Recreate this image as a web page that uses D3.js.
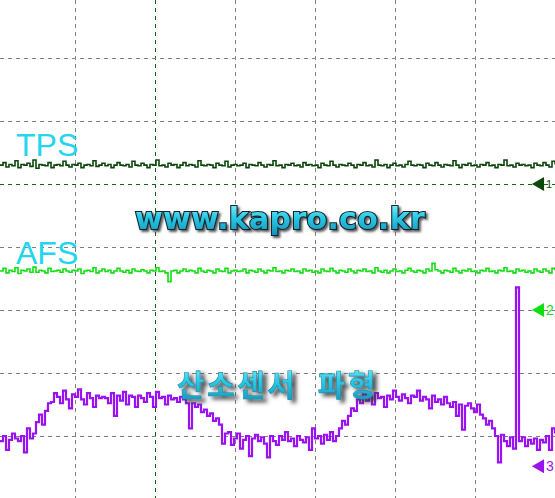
<!DOCTYPE html>
<html>
<head>
<meta charset="utf-8">
<script src="https://cdn.jsdelivr.net/npm/d3@7"></script>
<style>
  body { margin: 0; background: #fff; }
  svg { display: block; }
</style>
</head>
<body>
<div id="scope"></div>
<script>
var W = 555, H = 498;

// screen grid in divisions (visible part of the scope screen)
var xDivs = [0, 1, 2, 3, 4, 5, 6, 7];
var yDivs = [0, 1, 2, 3, 4, 5, 6, 7, 8];
var triggerDiv = 2;

// channels : label, ground level (div), volts per div
var chNames = ['TPS', 'AFS', '산소센서 파형'];
var chGround = [3, 5, 7.48];
var chVoltsDiv = [1, 1, 0.5];
var chColors = ['#0b470b', '#10e010', '#9a12f0'];

// sampled values (V), one every 3 px of screen
var tps = [0.30,0.34,0.27,0.31,0.29,0.37,0.26,0.31,0.30,0.33,0.28,0.38,0.25,0.31,0.30,0.29,0.34,0.26,0.30,0.31,
0.29,0.36,0.30,0.27,0.31,0.30,0.33,0.26,0.30,0.31,0.29,0.37,0.28,0.30,0.33,0.29,0.31,0.26,0.30,0.34,
0.30,0.29,0.31,0.27,0.36,0.30,0.29,0.33,0.30,0.26,0.31,0.30,0.38,0.29,0.30,0.27,0.33,0.30,0.31,0.26,
0.30,0.34,0.29,0.31,0.30,0.27,0.37,0.30,0.29,0.31,0.30,0.26,0.33,0.30,0.29,0.36,0.27,0.30,0.31,0.29,
0.30,0.33,0.26,0.31,0.30,0.29,0.34,0.30,0.27,0.31,0.30,0.37,0.29,0.30,0.26,0.31,0.30,0.33,0.29,0.30,
0.27,0.34,0.30,0.31,0.29,0.30,0.26,0.33,0.30,0.29,0.36,0.30,0.27,0.31,0.30,0.29,0.33,0.30,0.26,0.31,
0.30,0.34,0.29,0.30,0.27,0.38,0.30,0.29,0.31,0.26,0.30,0.33,0.29,0.30,0.27,0.31,0.36,0.30,0.29,0.31,
0.30,0.26,0.33,0.30,0.29,0.34,0.30,0.27,0.31,0.30,0.29,0.37,0.30,0.26,0.31,0.30,0.33,0.29,0.30,0.27,
0.31,0.30,0.34,0.29,0.30,0.26,0.31,0.30,0.38,0.29,0.30,0.27,0.33,0.30,0.31,0.29,0.30,0.26,0.33,0.30,
0.29,0.34,0.30,0.27,0.36,0.31];

var afs = [0.62,0.66,0.59,0.63,0.61,0.67,0.58,0.63,0.62,0.65,0.60,0.68,0.60,0.63,0.62,0.59,0.66,0.61,0.62,0.63,
0.60,0.65,0.62,0.60,0.63,0.62,0.65,0.58,0.62,0.63,0.61,0.67,0.59,0.62,0.65,0.61,0.63,0.59,0.62,0.66,
0.62,0.60,0.63,0.59,0.65,0.62,0.61,0.64,0.62,0.59,0.63,0.62,0.67,0.61,0.62,0.59,0.45,0.62,0.63,0.59,
0.62,0.65,0.61,0.63,0.62,0.59,0.66,0.62,0.60,0.63,0.62,0.59,0.65,0.62,0.61,0.66,0.59,0.62,0.63,0.61,
0.62,0.65,0.59,0.63,0.62,0.60,0.65,0.62,0.59,0.63,0.62,0.67,0.61,0.62,0.59,0.63,0.62,0.65,0.61,0.62,
0.59,0.65,0.62,0.63,0.60,0.62,0.59,0.65,0.62,0.61,0.66,0.62,0.59,0.63,0.62,0.60,0.65,0.62,0.59,0.63,
0.62,0.65,0.61,0.62,0.59,0.67,0.62,0.60,0.63,0.59,0.62,0.65,0.61,0.62,0.59,0.63,0.66,0.62,0.60,0.63,
0.62,0.59,0.65,0.62,0.74,0.64,0.62,0.59,0.63,0.62,0.60,0.66,0.62,0.59,0.63,0.62,0.65,0.61,0.62,0.59,
0.63,0.62,0.66,0.61,0.62,0.59,0.63,0.62,0.67,0.61,0.62,0.59,0.65,0.62,0.63,0.60,0.62,0.59,0.65,0.62,
0.60,0.65,0.62,0.59,0.66,0.63];

var o2 = [0.20,0.24,0.13,0.21,0.26,0.22,0.20,0.24,0.11,0.30,0.22,0.26,0.35,0.41,0.33,0.44,0.50,0.51,0.58,0.55,
0.50,0.60,0.53,0.46,0.57,0.55,0.61,0.53,0.49,0.58,0.54,0.47,0.56,0.54,0.55,0.54,0.50,0.58,0.40,0.56,
0.52,0.59,0.49,0.56,0.55,0.47,0.56,0.54,0.51,0.58,0.55,0.47,0.59,0.54,0.55,0.49,0.56,0.53,0.54,0.51,
0.55,0.53,0.50,0.30,0.50,0.47,0.49,0.43,0.45,0.40,0.42,0.36,0.38,0.33,0.18,0.26,0.27,0.17,0.22,0.26,
0.14,0.21,0.24,0.08,0.22,0.25,0.20,0.23,0.18,0.07,0.24,0.20,0.17,0.24,0.21,0.27,0.20,0.22,0.16,0.24,
0.21,0.19,0.23,0.13,0.30,0.22,0.24,0.18,0.25,0.21,0.27,0.20,0.24,0.30,0.36,0.33,0.40,0.46,0.44,0.53,
0.50,0.57,0.52,0.55,0.49,0.58,0.54,0.55,0.47,0.56,0.53,0.60,0.55,0.52,0.57,0.54,0.50,0.56,0.55,0.60,
0.52,0.55,0.53,0.46,0.56,0.51,0.53,0.49,0.55,0.50,0.47,0.51,0.40,0.49,0.29,0.48,0.50,0.46,0.43,0.49,
0.41,0.38,0.33,0.36,0.30,0.24,0.03,0.25,0.20,0.16,0.23,0.14,1.42,0.20,0.23,0.16,0.21,0.18,0.22,0.13,
0.21,0.19,0.24,0.13,0.30,0.26];

var series = [tps, afs, o2];

var xDiv = d3.scaleLinear().domain([0, 7]).range([-5, 555]);
var yDiv = d3.scaleLinear().domain([0, 8]).range([-5, 499]);
var xs = d3.scaleLinear().domain([0, o2.length - 1]).range([0, 555]);

var svg = d3.select('#scope').append('svg')
  .attr('width', W).attr('height', H);

var defs = svg.append('defs');
var grad = defs.append('linearGradient').attr('id', 'cyanGrad')
  .attr('x1', 0).attr('y1', 0).attr('x2', 0).attr('y2', 1);
grad.append('stop').attr('offset', '0%').attr('stop-color', '#9ef4ff');
grad.append('stop').attr('offset', '45%').attr('stop-color', '#2ccbe6');
grad.append('stop').attr('offset', '100%').attr('stop-color', '#1590b8');

var shadow = defs.append('filter').attr('id', 'shadow')
  .attr('x', '-10%').attr('y', '-30%').attr('width', '130%').attr('height', '180%');
shadow.append('feDropShadow').attr('dx', 4).attr('dy', 3)
  .attr('stdDeviation', 2).attr('flood-color', '#3a3a3a').attr('flood-opacity', 0.95);

var shadow2 = defs.append('filter').attr('id', 'shadow2')
  .attr('x', '-10%').attr('y', '-30%').attr('width', '130%').attr('height', '180%');
shadow2.append('feDropShadow').attr('dx', 2).attr('dy', 2)
  .attr('stdDeviation', 1.2).attr('flood-color', '#333').attr('flood-opacity', 0.8);

// grid
svg.selectAll('.vgrid').data(xDivs).enter().append('line')
  .attr('class', 'vgrid')
  .attr('x1', d => xDiv(d) + 0.5).attr('x2', d => xDiv(d) + 0.5)
  .attr('y1', 0).attr('y2', H)
  .attr('stroke', d => d === triggerDiv ? '#146414' : '#808080')
  .attr('stroke-dasharray', '4,4');

svg.selectAll('.hgrid').data(yDivs).enter().append('line')
  .attr('class', 'hgrid')
  .attr('y1', d => yDiv(d) + 0.5).attr('y2', d => yDiv(d) + 0.5)
  .attr('x1', 0).attr('x2', W)
  .attr('stroke', d => d === chGround[0] ? '#146414' : '#808080')
  .attr('stroke-dasharray', '4,4');

// traces
series.forEach(function (vals, c) {
  var line = d3.line()
    .x((d, i) => xs(i))
    .y(d => yDiv(chGround[c] - d / chVoltsDiv[c]))
    .curve(d3.curveStepAfter);
  svg.append('path')
    .datum(vals)
    .attr('fill', 'none')
    .attr('stroke', chColors[c])
    .attr('stroke-width', c === 2 ? 2.2 : 1.6)
    .attr('d', line);
});

// ground markers
var tri = d3.symbol().type(d3.symbolTriangle).size(85);
var mk = svg.selectAll('.marker').data(chGround).enter().append('g')
  .attr('class', 'marker')
  .attr('transform', d => `translate(540, ${yDiv(d)})`);
mk.append('path')
  .attr('d', tri)
  .attr('transform', 'rotate(-90)')
  .attr('fill', (d, i) => chColors[i]);
mk.append('text')
  .attr('x', 6).attr('dy', '0.36em')
  .attr('font-family', 'Liberation Sans, Arial, sans-serif')
  .attr('font-size', (d, i) => i === 0 ? 11 : 14)
  .attr('fill', (d, i) => chColors[i])
  .text((d, i) => i + 1);

// channel labels
svg.append('text')
  .attr('x', 16).attr('y', 156)
  .attr('font-family', 'Liberation Sans, Arial, sans-serif')
  .attr('font-size', 32).attr('fill', '#22d6ee')
  .text(chNames[0]);
svg.append('text')
  .attr('x', 16).attr('y', 264)
  .attr('font-family', 'Liberation Sans, Arial, sans-serif')
  .attr('font-size', 32).attr('fill', '#22d6ee')
  .text(chNames[1]);

svg.append('text')
  .attr('x', 135).attr('y', 229)
  .attr('font-family', 'DejaVu Sans, sans-serif')
  .attr('font-weight', 'bold')
  .attr('font-size', 30)
  .attr('letter-spacing', 0.3)
  .attr('fill', 'url(#cyanGrad)')
  .attr('stroke', '#0c2630').attr('stroke-width', 2.2)
  .attr('paint-order', 'stroke')
  .attr('filter', 'url(#shadow2)')
  .text('www.kapro.co.kr');

svg.append('text')
  .attr('x', 177).attr('y', 396)
  .attr('font-family', 'Noto Sans CJK KR, sans-serif')
  .attr('font-weight', 'bold')
  .attr('font-size', 30)
  .attr('letter-spacing', 2.5)
  .attr('word-spacing', 11)
  .attr('fill', 'url(#cyanGrad)')
  .attr('stroke', '#1a8aa8').attr('stroke-width', 0.6)
  .attr('filter', 'url(#shadow)')
  .text(chNames[2]);
</script>
</body>
</html>
